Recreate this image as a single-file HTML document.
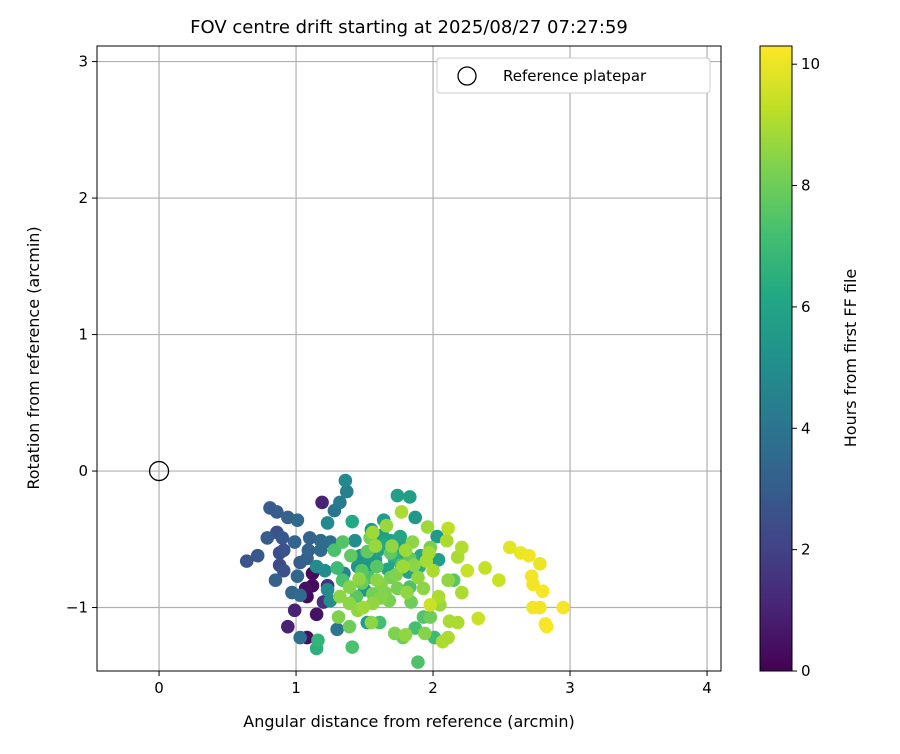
<!DOCTYPE html>
<html><head><meta charset="utf-8"><style>
body{margin:0;background:#fff;font-family:"DejaVu Sans","Liberation Sans",sans-serif}
</style></head><body>
<svg id="chart" width="900" height="750" xmlns="http://www.w3.org/2000/svg" font-family="DejaVu Sans, Liberation Sans, sans-serif">
<defs><linearGradient id="vir" x1="0" y1="1" x2="0" y2="0">
<stop offset="0" stop-color="#440154"/><stop offset="0.1" stop-color="#482475"/><stop offset="0.2" stop-color="#414487"/><stop offset="0.3" stop-color="#355f8d"/><stop offset="0.4" stop-color="#2a788e"/><stop offset="0.5" stop-color="#21918c"/><stop offset="0.6" stop-color="#22a884"/><stop offset="0.7" stop-color="#44bf70"/><stop offset="0.8" stop-color="#7ad151"/><stop offset="0.9" stop-color="#bddf26"/><stop offset="1" stop-color="#fde725"/>
</linearGradient></defs>
<text x="409" y="33" font-size="18" text-anchor="middle">FOV centre drift starting at 2025/08/27 07:27:59</text>
<g id="grid"></g>
<g id="points"></g>
<rect x="97" y="46" width="624" height="625" fill="none" stroke="#000" stroke-width="1"/>
<g id="ticks"></g>
<text x="409" y="727" font-size="16" text-anchor="middle">Angular distance from reference (arcmin)</text>
<text transform="translate(39,358) rotate(-90)" font-size="16" text-anchor="middle">Rotation from reference (arcmin)</text>
<g>
<rect x="437" y="58" width="273" height="35" rx="3" fill="#fff" stroke="#ccc"/>
<circle cx="467" cy="76" r="9" fill="none" stroke="#000" stroke-width="1.3"/>
<text x="503" y="81" font-size="15">Reference platepar</text>
</g>
<rect x="760" y="46" width="32" height="625" fill="url(#vir)" stroke="#000" stroke-width="1"/>
<g id="cticks"></g>
<text transform="translate(856,358) rotate(-90)" font-size="16" text-anchor="middle">Hours from first FF file</text>
</svg>
<script>
const xs=[1.36,1.37,1.32,1.28,1.19,0.81,0.86,0.94,1.01,1.23,1.41,0.86,0.79,0.90,0.99,1.10,1.18,1.25,1.34,0.64,0.72,0.88,0.91,1.09,1.18,0.88,0.91,1.03,1.08,0.85,1.01,1.15,1.12,1.12,1.07,1.23,0.97,1.03,1.08,1.20,0.99,1.15,0.94,1.03,1.08,1.16,1.15,1.30,1.39,1.41,1.25,1.23,1.28,1.30,1.21,1.34,1.32,1.39,1.31,1.39,1.48,1.52,1.54,1.56,1.66,1.64,1.53,1.59,1.65,1.56,1.49,1.45,1.61,1.52,1.55,1.72,1.78,1.74,1.77,1.77,1.74,1.83,1.77,1.69,1.59,1.69,1.81,1.87,1.96,2.11,2.10,2.21,2.18,1.85,1.98,2.03,2.04,2.00,1.83,1.78,1.89,1.93,1.83,2.11,2.15,2.25,2.21,2.38,2.48,2.56,2.64,2.70,2.78,2.72,2.73,2.80,2.73,2.78,2.95,2.82,2.83,2.33,2.12,2.18,1.98,2.04,2.05,1.93,1.98,1.94,1.80,1.87,2.01,2.11,2.07,1.89,1.47,1.58,1.69,1.43,1.50,1.72,1.91,1.64,1.55,
1.45,1.52,1.60,1.67,1.75,1.82,1.90,1.62,1.70,1.48,1.56,1.80,1.95,1.40,1.63,1.73,1.86,1.58,1.44,1.68,1.35,1.52,1.76,1.97,1.62,1.84,1.46,1.71];
const ys=[-0.07,-0.15,-0.23,-0.29,-0.23,-0.27,-0.30,-0.34,-0.36,-0.38,-0.37,-0.45,-0.49,-0.49,-0.52,-0.49,-0.51,-0.52,-0.52,-0.66,-0.62,-0.60,-0.58,-0.58,-0.58,-0.69,-0.73,-0.67,-0.64,-0.80,-0.77,-0.70,-0.75,-0.84,-0.86,-0.84,-0.89,-0.91,-0.92,-0.96,-1.02,-1.05,-1.14,-1.22,-1.22,-1.24,-1.30,-1.16,-1.14,-1.29,-0.95,-0.87,-0.58,-0.71,-0.73,-0.80,-0.92,-0.97,-1.07,-0.85,-0.73,-0.59,-0.49,-0.45,-0.40,-0.54,-0.78,-0.70,-0.89,-0.97,-1.00,-1.02,-1.11,-1.11,-1.11,-1.19,-1.22,-0.86,-0.69,-0.30,-0.18,-0.19,-0.53,-0.60,-0.80,-0.78,-0.89,-0.34,-0.41,-0.42,-0.51,-0.56,-0.63,-0.52,-0.56,-0.48,-0.65,-0.73,-0.64,-0.70,-0.78,-0.86,-0.85,-0.80,-0.80,-0.73,-0.89,-0.71,-0.80,-0.56,-0.60,-0.62,-0.68,-0.77,-0.83,-0.88,-1.00,-1.00,-1.00,-1.12,-1.14,-1.08,-1.10,-1.11,-0.98,-0.92,-0.98,-1.07,-1.07,-1.19,-1.20,-1.15,-1.22,-1.22,-1.25,-1.40,-0.62,-0.65,-0.51,-0.51,-0.87,-0.65,-0.62,-0.36,-0.43,
-0.70,-0.75,-0.58,-0.72,-0.62,-0.74,-0.70,-0.83,-0.55,-0.82,-0.90,-0.58,-0.66,-0.62,-0.47,-0.76,-0.69,-0.55,-0.92,-0.95,-0.75,-0.66,-0.48,-0.60,-0.93,-0.96,-0.79,-0.62];
const hours=[4.8,4.5,4.2,4.0,1.0,3.0,3.0,3.2,3.5,4.8,6.2,2.6,3.0,2.8,3.3,3.3,3.5,3.8,7.5,2.7,2.8,2.4,2.6,3.3,3.6,2.2,2.5,3.0,3.2,3.2,3.4,5.0,0.3,0.2,0.4,1.5,3.4,3.6,0.3,1.5,1.0,0.5,1.0,3.7,0.4,6.7,6.5,4.0,8.0,7.3,5.0,5.0,7.3,7.0,5.0,7.3,8.5,8.5,8.3,8.4,7.6,7.8,8.2,8.8,8.7,6.2,7.4,7.6,8.3,8.6,8.8,8.6,7.2,5.6,8.5,8.3,8.0,8.2,7.5,9.0,5.8,5.8,5.8,7.7,8.5,8.2,8.6,5.5,8.8,9.3,9.0,9.1,9.0,8.5,8.2,5.6,5.8,9.0,7.8,8.8,8.6,8.5,7.4,8.6,7.6,9.4,9.0,9.4,9.5,9.9,10.0,10.1,10.0,10.1,10.1,10.2,10.1,10.1,10.2,10.2,10.2,9.5,9.0,9.0,9.5,9.0,8.7,7.5,8.0,8.4,8.6,7.2,7.0,9.0,9.0,7.4,5.2,5.5,5.8,5.0,5.4,6.0,6.2,5.7,5.5,
5.3,5.6,5.9,6.1,6.3,6.0,6.4,8.4,8.6,7.9,8.1,8.8,8.9,7.7,5.8,8.3,8.5,8.7,7.6,8.2,4.6,5.4,6.0,8.9,8.4,8.0,8.6,6.5];
const xTicks=[0,1,2,3,4];
const yTicks=[-1,0,1,2,3];
const cTicks=[0,2,4,6,8,10];
const refPoint=[0,0];
const X0=97,X1=721,Y0=671,Y1=46,xmin=-0.453,xmax=4.102,ymin=-1.465,ymax=3.114,cmax=10.3;
const sx=v=>X0+(v-xmin)/(xmax-xmin)*(X1-X0);
const sy=v=>Y0-(v-ymin)/(ymax-ymin)*(Y0-Y1);
const cy=v=>671-v/cmax*625;
const NS="http://www.w3.org/2000/svg";
function mk(t,a,p){const e=document.createElementNS(NS,t);for(const k in a)e.setAttribute(k,a[k]);p.appendChild(e);return e;}
const stops=[[0,[68,1,84]],[.1,[72,36,117]],[.2,[65,68,135]],[.3,[53,95,141]],[.4,[42,120,142]],[.5,[33,145,140]],[.6,[34,168,132]],[.7,[68,191,112]],[.8,[122,209,81]],[.9,[189,223,38]],[1,[253,231,37]]];
function vir(t){t=Math.max(0,Math.min(1,t));for(let i=1;i<stops.length;i++){if(t<=stops[i][0]){const a=stops[i-1],b=stops[i],f=(t-a[0])/(b[0]-a[0]);return 'rgb('+a[1].map((c,j)=>Math.round(c+(b[1][j]-c)*f)).join(',')+')';}}return 'rgb(253,231,37)';}
const grid=document.getElementById('grid'),ticks=document.getElementById('ticks');
xTicks.forEach(v=>{const x=sx(v);
const g=mk('line',{x1:x,x2:x,y1:Y1,y2:Y0,stroke:'#b0b0b0','stroke-width':1.2},grid);


mk('line',{x1:x,x2:x,y1:Y0,y2:Y0+5,stroke:'#000'},ticks);
const t=mk('text',{x:x,y:Y0+22,'font-size':15,'text-anchor':'middle'},ticks);t.textContent=v<0?'\u2212'+(-v):v;

});
yTicks.forEach(v=>{const y=sy(v);
const g=mk('line',{x1:X0,x2:X1,y1:y,y2:y,stroke:'#b0b0b0','stroke-width':1.2},grid);


mk('line',{x1:X0-5,x2:X0,y1:y,y2:y,stroke:'#000'},ticks);
const t=mk('text',{x:X0-9,y:y+5,'font-size':15,'text-anchor':'end'},ticks);t.textContent=v<0?'\u2212'+(-v):v;

});
const ct=document.getElementById('cticks');
cTicks.forEach(v=>{const y=cy(v);mk('line',{x1:792,x2:797,y1:y,y2:y,stroke:'#000'},ct);
const t=mk('text',{x:801,y:y+5,'font-size':15},ct);t.textContent=v;

});
const pts=document.getElementById('points');
const idx=hours.map((h,i)=>i).sort((a,b)=>hours[a]-hours[b]);
idx.forEach(i=>{const c=mk('circle',{cx:sx(xs[i]),cy:sy(ys[i]),r:6.8,fill:vir(hours[i]/cmax)},pts);

});
const r=mk('circle',{cx:sx(refPoint[0]),cy:sy(refPoint[1]),r:9.5,fill:'none',stroke:'#000','stroke-width':1.3},pts);


</script>
</body></html>
